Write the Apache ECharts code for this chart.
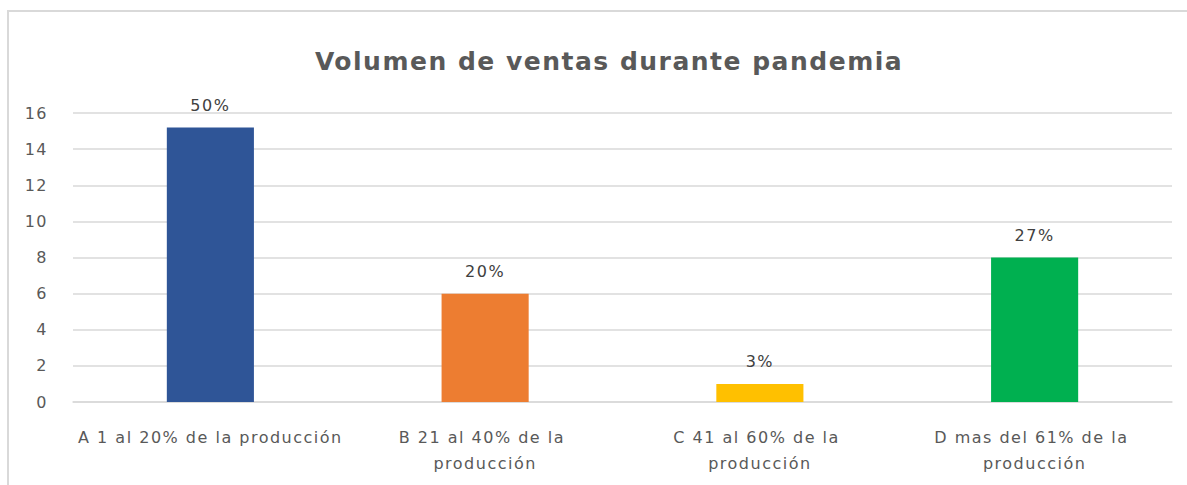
<!DOCTYPE html>
<html>
<head>
<meta charset="utf-8">
<script src="https://cdn.jsdelivr.net/npm/echarts@6/dist/echarts.min.js"></script>
<style>
html,body{margin:0;padding:0;background:#fff}
#c{width:1187px;height:485px}
#c text{letter-spacing:1.5px}
</style>
</head>
<body>
<div id="c"></div>
<script>
const title = 'Volumen de ventas durante pandemia';
const categories = ['A 1 al 20% de la producción', 'B 21 al 40% de la producción', 'C 41 al 60% de la producción', 'D mas del 61% de la producción'];
const values = [15.2, 6, 1, 8];
const percentLabels = ['50%', '20%', '3%', '27%'];
const colors = ['#2F5597', '#ED7D31', '#FFC000', '#00B050'];
const yTicks = [0, 2, 4, 6, 8, 10, 12, 14, 16];

const FONT = 'DejaVu Sans';
const chart = echarts.init(document.getElementById('c'), null, { renderer: 'svg' });
chart.setOption({
  animation: false,
  graphic: [{
    type: 'rect', z: -1,
    shape: { x: 8, y: 11, width: 1300, height: 600 },
    style: { fill: 'none', stroke: '#d9d9d9', lineWidth: 2 }
  }],
  title: {
    text: title, left: 604, textAlign: 'center', top: 44,
    textStyle: { fontFamily: FONT, fontSize: 25, fontWeight: 'bold', color: '#595959' }
  },
  grid: { left: 73, right: 15, top: 113, bottom: 83 },
  xAxis: {
    type: 'category',
    data: categories.map((c, i) => i === 0 ? { value: c, textStyle: { width: 320 } } : c),
    axisLine: { lineStyle: { color: '#d9d9d9', width: 1.5 } },
    axisTick: { show: false },
    axisLabel: {
      interval: 0, margin: 22, width: 228, overflow: 'break',
      fontFamily: FONT, fontSize: 16, color: '#595959', lineHeight: 26
    }
  },
  yAxis: {
    type: 'value', min: yTicks[0], max: yTicks[yTicks.length - 1], interval: 2,
    axisLine: { show: false }, axisTick: { show: false },
    splitLine: { lineStyle: { color: '#d9d9d9', width: 1.5 } },
    axisLabel: { margin: 25, fontFamily: FONT, fontSize: 16, color: '#595959' }
  },
  series: [{
    type: 'bar', barWidth: '31.7%',
    data: values.map((v, i) => ({ value: v, itemStyle: { color: colors[i] } })),
    label: {
      show: true, position: 'top', distance: 14,
      formatter: p => percentLabels[p.dataIndex],
      fontFamily: FONT, fontSize: 16, color: '#404040'
    }
  }]
});
</script>
</body>
</html>
